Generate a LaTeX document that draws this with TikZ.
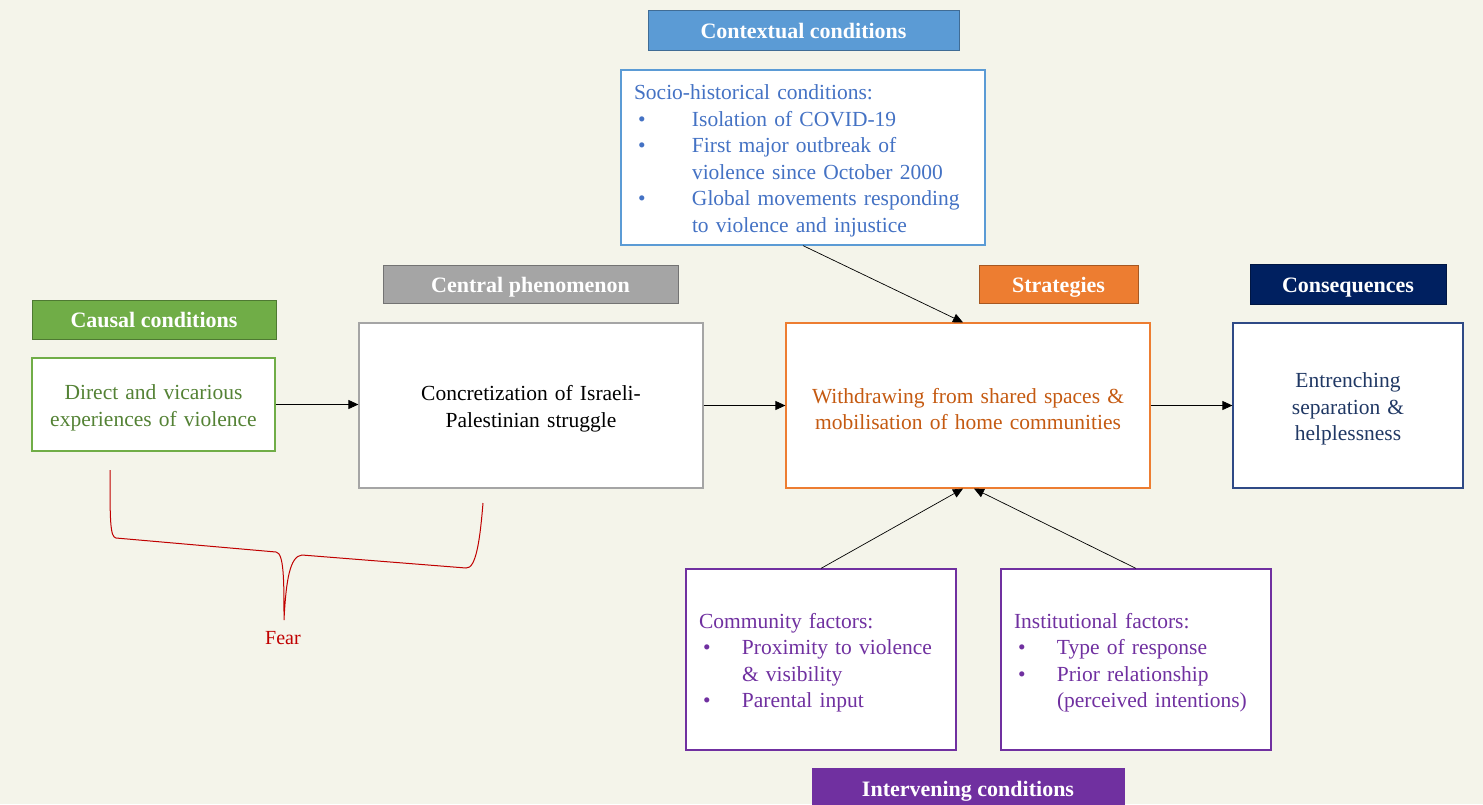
\documentclass[tikz,border=0pt]{standalone}
\usepackage{fontspec}
\setmainfont{Liberation Serif}
\usetikzlibrary{arrows.meta}

\definecolor{bgcream}{HTML}{F4F4EA}
\definecolor{ctxblue}{HTML}{5B9BD5}
\definecolor{ctxtext}{HTML}{4472C4}
\definecolor{causgreen}{HTML}{70AD47}
\definecolor{caustext}{HTML}{548235}
\definecolor{cengray}{HTML}{A5A5A5}
\definecolor{strorange}{HTML}{ED7D31}
\definecolor{strtext}{HTML}{C55A11}
\definecolor{connavy}{HTML}{002060}
\definecolor{conframe}{HTML}{2F4A86}
\definecolor{context}{HTML}{203864}
\definecolor{intpurple}{HTML}{7030A0}
\definecolor{fearred}{HTML}{C00000}

\tikzset{
  headbox/.style={draw=#1!70!black, fill=#1, text=white, inner sep=0pt, line width=1pt,
    text height=16pt, text depth=0pt, font=\fontsize{22}{26}\selectfont\bfseries},
  textbox/.style={draw=#1, fill=white, line width=1.2pt, inner xsep=13pt, inner ysep=0pt,
    font=\fontsize{21.5}{26.5}\selectfont, execute at begin node={\rule{0pt}{22pt}}},
  flow/.style={-{Triangle[length=10pt,width=9pt]}, line width=0.7pt}
}
\newcommand{\itm}[2][39pt]{\hspace*{4pt}\makebox[#1][l]{\textbullet}#2}

\begin{document}
\begin{tikzpicture}[x=1pt,y=-1pt]
    \fill[bgcream] (0,0) rectangle (1483,804);
    \useasboundingbox (0,0) rectangle (1483,804);

    % Headers
    \node[headbox=ctxblue, minimum width=311pt, minimum height=40pt] (ctxhead) at (803.5,30) {Contextual conditions};
    \node[headbox=causgreen, minimum width=244pt, minimum height=39pt] (caushead) at (154,319.5) {Causal conditions};
    \node[headbox=cengray, minimum width=295pt, minimum height=38pt] (cenhead) at (530.5,284) {Central phenomenon};
    \node[headbox=strorange, minimum width=159pt, minimum height=38pt] (strhead) at (1058.5,284) {Strategies};
    \node[headbox=connavy, minimum width=196pt, minimum height=40pt] (conhead) at (1348,284) {Consequences};
    \node[headbox=intpurple, draw=intpurple, minimum width=312pt, minimum height=40pt] (inthead) at (968,788) {Intervening conditions};

    % Boxes
    \node[textbox=ctxblue, text=ctxtext, text width=338pt, minimum height=175pt, align=left] (ctx) at (803,157.5)
      {Socio-historical conditions:\\
       \itm[54pt]{Isolation of COVID-19}\\
       \itm[54pt]{First major outbreak of}\\
       \hspace*{58pt}violence since October 2000\\
       \itm[54pt]{Global movements responding}\\
       \hspace*{58pt}to violence and injustice};
    \node[textbox=causgreen, text=caustext, text width=217pt, minimum height=93pt, align=center] (caus) at (153.5,404.5)
      {Direct and vicarious\\experiences of violence};
    \node[textbox=cengray, text=black, text width=318pt, minimum height=165pt, align=center] (cen) at (531,405.5)
      {Concretization of Israeli-\\Palestinian struggle};
    \node[textbox=strorange, text=strtext, text width=338pt, minimum height=165pt, align=center] (str) at (968,405.5)
      {Withdrawing from shared spaces \&\\mobilisation of home communities};
    \node[textbox=conframe, text=context, text width=204pt, minimum height=165pt, align=center] (con) at (1348,405.5)
      {Entrenching\\separation \&\\helplessness};
    \node[textbox=intpurple, text=intpurple, text width=244pt, minimum height=181pt, align=left] (com) at (821,659.5)
      {Community factors:\\
       \itm{Proximity to violence}\\
       \hspace*{43pt}\& visibility\\
       \itm{Parental input}};
    \node[textbox=intpurple, text=intpurple, text width=244pt, minimum height=181pt, align=left] (ins) at (1136,659.5)
      {Institutional factors:\\
       \itm{Type of response}\\
       \itm{Prior relationship}\\
       \hspace*{43pt}(perceived intentions)};

    % Arrows
    \draw[flow] (caus.east) -- (caus.east -| cen.west);
    \draw[flow] (cen.east) -- (cen.east -| str.west);
    \draw[flow] (str.east) -- (str.east -| con.west);
    \draw[flow] (ctx.south) -- ([xshift=-5pt]str.north);
    \draw[flow] (com.north) -- ([xshift=-5pt]str.south);
    \draw[flow] (ins.north) -- ([xshift=6pt]str.south);

    % Fear brace
    \node[text=fearred, font=\fontsize{20}{24}\selectfont] (fear) at (283,638) {Fear};
    \coordinate (feartip) at (284,620);
    \draw[fearred, line width=1pt] (110,470) .. controls (110,520) and (110,537) .. (116,538)
      -- (276,552) .. controls (284,553) and (284,580) .. (feartip)
      .. controls (286,580) and (290,556) .. (302,555)
      -- (466,568) .. controls (476,569) and (480,540) .. (483,503);
\end{tikzpicture}
\end{document}
